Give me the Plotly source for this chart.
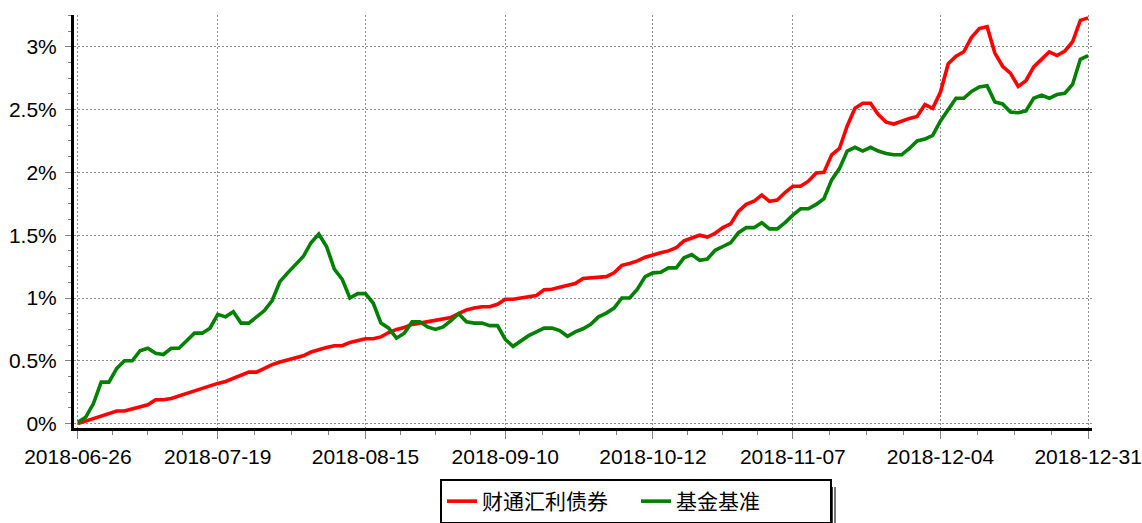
import plotly.graph_objects as go

# ---------------- data ----------------
SERIES_NAMES = ["财通汇利债券", "基金基准"]

FUND = [
    0.00, 0.02, 0.04, 0.06, 0.075, 0.10, 0.10, 0.115, 0.13, 0.15,
    0.19, 0.19, 0.20, 0.22, 0.24, 0.265, 0.285, 0.30, 0.32, 0.335,
    0.36, 0.39, 0.41, 0.41, 0.44, 0.47, 0.49, 0.505, 0.52, 0.54,
    0.57, 0.59, 0.605, 0.62, 0.62, 0.645, 0.66, 0.675, 0.675, 0.69,
    0.725, 0.75, 0.765, 0.79, 0.80, 0.81, 0.82, 0.83, 0.845, 0.875,
    0.905, 0.92, 0.93, 0.93, 0.95, 0.99, 0.99, 1.00, 1.01, 1.02,
    1.065, 1.07, 1.085, 1.10, 1.115, 1.155, 1.16, 1.17, 1.17, 1.20,
    1.26, 1.275, 1.295, 1.325, 1.345, 1.36, 1.375, 1.40, 1.455, 1.48,
    1.50, 1.485, 1.515, 1.56, 1.59, 1.69, 1.745, 1.77, 1.82, 1.77,
    1.78, 1.84, 1.89, 1.89, 1.93, 1.995, 2.00, 2.14, 2.19, 2.37,
    2.51, 2.55, 2.55, 2.46, 2.40, 2.385, 2.41, 2.43, 2.445, 2.54,
    2.51, 2.64, 2.865, 2.925, 2.96, 3.075, 3.145, 3.16, 2.95, 2.845,
    2.79, 2.685, 2.73, 2.84, 2.90, 2.96, 2.93, 2.965, 3.04, 3.21,
    3.23,
]

BENCH = [
    0.01, 0.05, 0.16, 0.33, 0.33, 0.44, 0.50, 0.50, 0.58, 0.60,
    0.56, 0.55, 0.60, 0.60, 0.66, 0.72, 0.72, 0.76, 0.87, 0.85,
    0.89, 0.80, 0.80, 0.85, 0.90, 0.98, 1.13, 1.20, 1.27, 1.33,
    1.44, 1.51, 1.41, 1.23, 1.15, 1.00, 1.035, 1.035, 0.96, 0.80,
    0.76, 0.68, 0.72, 0.81, 0.81, 0.77, 0.75, 0.77, 0.82, 0.875,
    0.81, 0.80, 0.80, 0.78, 0.78, 0.67, 0.615, 0.655, 0.70, 0.73,
    0.76, 0.76, 0.74, 0.695, 0.73, 0.755, 0.79, 0.85, 0.88, 0.92,
    1.00, 1.00, 1.07, 1.17, 1.20, 1.205, 1.24, 1.24, 1.32, 1.345,
    1.30, 1.31, 1.38, 1.41, 1.44, 1.52, 1.56, 1.56, 1.60, 1.55,
    1.55, 1.60, 1.66, 1.71, 1.71, 1.745, 1.79, 1.94, 2.03, 2.17,
    2.20, 2.17, 2.20, 2.17, 2.15, 2.14, 2.14, 2.19, 2.25, 2.265,
    2.295, 2.41, 2.50, 2.59, 2.59, 2.645, 2.68, 2.69, 2.56, 2.545,
    2.48, 2.475, 2.49, 2.59, 2.615, 2.59, 2.62, 2.63, 2.70, 2.90,
    2.93,
]

TICK_LABELS = ["2018-06-26", "2018-07-19", "2018-08-15", "2018-09-10",
               "2018-10-12", "2018-11-07", "2018-12-04", "2018-12-31"]
TICK_INDEX = [0, 18, 37, 55, 74, 92, 111, 130]

Y_TICKS = [0, 0.5, 1, 1.5, 2, 2.5, 3]
Y_TICK_TEXT = ["0%", "0.5%", "1%", "1.5%", "2%", "2.5%", "3%"]

COLORS = ["#FF0000", "#008000"]

# ---------------- figure ----------------
W, H = 1142, 523
L, R, T, B = 74, 50, 15, 95
PW, PH = W - L - R, H - T - B

x = list(range(len(FUND)))

# minor x ticks: quarter points between labelled ticks
minor_x = []
for a, b in zip(TICK_INDEX[:-1], TICK_INDEX[1:]):
    for k in range(1, 4):
        minor_x.append(a + (b - a) * k / 4)

fig = go.Figure()
for name, vals, col in zip(SERIES_NAMES, [FUND, BENCH], COLORS):
    fig.add_trace(go.Scatter(
        x=x, y=vals, mode="lines", name=name,
        line=dict(color=col, width=3.6),
    ))


def px_x(p):
    return (p - L) / PW


def px_y(p):
    return (H - B - p) / PH


# double "shadow" line at the right side of the legend box
fig.add_shape(type="line", xref="paper", yref="paper",
              x0=px_x(832), x1=px_x(832), y0=px_y(487), y1=px_y(523),
              line=dict(color="black", width=1.5))
fig.add_shape(type="line", xref="paper", yref="paper",
              x0=px_x(835), x1=px_x(835), y0=px_y(487), y1=px_y(523),
              line=dict(color="#777777", width=2))

GRID = "#8c8c8c"
fig.update_layout(
    width=W, height=H,
    margin=dict(l=L, r=R, t=T, b=B, autoexpand=False),
    paper_bgcolor="white", plot_bgcolor="white",
    font=dict(family="Liberation Sans, Arial, sans-serif", size=21, color="black"),
    showlegend=True,
    legend=dict(
        orientation="h",
        x=px_x(440), xanchor="left",
        y=px_y(479), yanchor="top",
        bordercolor="black", borderwidth=2, bgcolor="white",
        font=dict(family="Noto Sans CJK SC", size=21, color="black"),
        entrywidth=149, entrywidthmode="pixels",
        tracegroupgap=0,
    ),
    xaxis=dict(
        range=[-0.5, 130.5],
        tickmode="array", tickvals=TICK_INDEX, ticktext=TICK_LABELS,
        showline=True, linecolor="black", linewidth=3,
        ticks="outside", ticklen=8, tickwidth=1, tickcolor="#808080",
        showgrid=True, gridcolor=GRID, gridwidth=1, griddash="2px,2px",
        zeroline=False,
        minor=dict(tickmode="array", tickvals=minor_x, ticks="outside",
                   ticklen=4, tickcolor="#808080", showgrid=False),
        tickfont=dict(size=21),
    ),
    yaxis=dict(
        range=[-0.035, 3.253],
        tickmode="array", tickvals=Y_TICKS, ticktext=Y_TICK_TEXT,
        showline=True, linecolor="black", linewidth=3,
        ticks="outside", ticklen=6, tickwidth=1, tickcolor="#808080",
        showgrid=True, gridcolor=GRID, gridwidth=1, griddash="2px,2px",
        zeroline=False,
        ticklabelstandoff=4,
        minor=dict(dtick=0.125, tick0=0, ticks="outside", ticklen=3,
                   tickcolor="#808080", showgrid=False),
        tickfont=dict(size=21),
    ),
)

fig.write_html(
    "out.html",
    config={"displayModeBar": False},
    post_script="document.body.style.margin='0px';document.body.style.overflow='hidden';",
)
